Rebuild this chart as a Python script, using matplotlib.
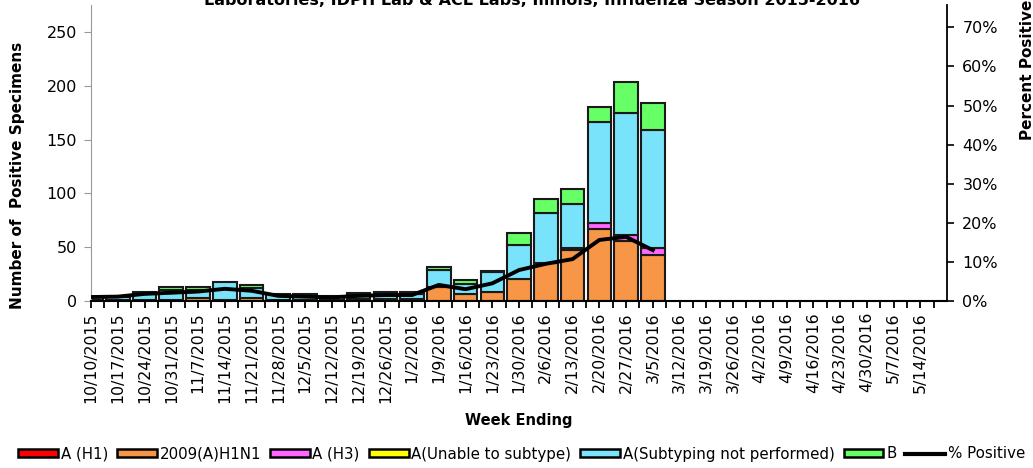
import numpy as np
import matplotlib
matplotlib.use("Agg")
import matplotlib.pyplot as plt
from matplotlib.patches import Patch
from matplotlib.lines import Line2D
from matplotlib.ticker import FuncFormatter, MultipleLocator

# week ending dates
weeks = ["10/10/2015", "10/17/2015", "10/24/2015", "10/31/2015", "11/7/2015",
         "11/14/2015", "11/21/2015", "11/28/2015", "12/5/2015", "12/12/2015",
         "12/19/2015", "12/26/2015", "1/2/2016", "1/9/2016", "1/16/2016",
         "1/23/2016", "1/30/2016", "2/6/2016", "2/13/2016", "2/20/2016",
         "2/27/2016", "3/5/2016", "3/12/2016", "3/19/2016", "3/26/2016",
         "4/2/2016", "4/9/2016", "4/16/2016", "4/23/2016", "4/30/2016",
         "5/7/2016", "5/14/2016"]

# specimens per week
a_h1 =      [0, 0, 0, 0, 0, 0, 0, 0, 0, 0, 0, 0, 0, 0, 0, 0, 0, 0, 0, 0, 0, 0,
             0, 0, 0, 0, 0, 0, 0, 0, 0, 0]
h1n1_2009 = [1, 1, 1, 1, 3, 1, 3, 1, 1, 1, 2, 2, 2, 13, 6, 8, 20, 35, 47, 67, 56, 43,
             0, 0, 0, 0, 0, 0, 0, 0, 0, 0]
a_h3 =      [0, 0, 0, 0, 0, 0, 0, 0, 0, 0, 0, 0, 0, 0, 0, 0, 0, 0, 2, 5, 5, 6,
             0, 0, 0, 0, 0, 0, 0, 0, 0, 0]
a_unable =  [0, 0, 0, 0, 0, 0, 0, 0, 0, 0, 0, 0, 0, 0, 0, 0, 0, 0, 0, 0, 0, 0,
             0, 0, 0, 0, 0, 0, 0, 0, 0, 0]
a_notsub =  [3, 3, 6, 9, 7, 17, 9, 5, 5, 4, 4, 5, 4, 16, 10, 19, 32, 47, 41, 94, 114, 110,
             0, 0, 0, 0, 0, 0, 0, 0, 0, 0]
b_type =    [0, 0, 1, 3, 3, 0, 3, 0, 0, 0, 1, 1, 2, 3, 3, 1, 11, 13, 14, 14, 29, 25,
             0, 0, 0, 0, 0, 0, 0, 0, 0, 0]
pct_pos =   [1.0, 1.1, 1.8, 2.1, 2.4, 3.1, 2.6, 1.3, 1.1, 0.9, 1.3, 1.5, 1.5, 4.1, 3.0,
             4.5, 7.9, 9.5, 10.7, 15.6, 16.4, 13.0]

series = [("A (H1)", a_h1, "#ff0000"),
          ("2009(A)H1N1", h1n1_2009, "#f79646"),
          ("A (H3)", a_h3, "#ff66ff"),
          ("A(Unable to subtype)", a_unable, "#ffff00"),
          ("A(Subtyping not performed)", a_notsub, "#78e3fa"),
          ("B", b_type, "#66ff66")]

plt.rcParams['font.family'] = ['DejaVu Sans']

fig = plt.figure(figsize=(10.33, 4.68), dpi=100)
ax = fig.add_axes([0.0881, 0.357, 0.8287, 0.632])
ax2 = ax.twinx()

x = np.arange(len(weeks))
bottom = np.zeros(len(weeks))
for name, vals, col in series:
    vals = np.array(vals, dtype=float)
    mask = vals > 0
    ax.bar(x[mask], vals[mask], bottom=bottom[mask], width=0.88, color=col,
           edgecolor="#1a1a1a", linewidth=1.5, zorder=2)
    bottom += vals

ax2.plot(x[:len(pct_pos)], np.array(pct_pos) / 100, color="black", lw=2.8,
         solid_joinstyle="round", zorder=5)
ax.set_zorder(ax2.get_zorder() - 1)
ax2.patch.set_visible(False)

ax.set_xlim(0, 32)
ax.set_ylim(0, 275)
ax2.set_ylim(0, 0.757)

ax.set_xticks(x)
ax.set_xticklabels(weeks, rotation=90, fontsize=11.3)
ax.set_xticks(x + 0.5, minor=True)
ax.tick_params(axis="x", which="both", length=5, width=1.3, direction="out", pad=3)

ax.yaxis.set_major_locator(MultipleLocator(50))
ax.tick_params(axis="y", labelsize=11.5, length=5, color="#999999", pad=5)
ax2.yaxis.set_major_locator(MultipleLocator(0.1))
ax2.yaxis.set_major_formatter(FuncFormatter(lambda v, p: f"{v * 100:.0f}%"))
ax2.tick_params(axis="y", labelsize=11.5, length=5, width=1.2, pad=6)

ax.spines["top"].set_visible(False)
ax2.spines["top"].set_visible(False)
ax.spines["left"].set_color("#999999")
ax2.spines["left"].set_visible(False)
ax.spines["right"].set_visible(False)
ax2.spines["right"].set_linewidth(1.3)
ax2.spines["bottom"].set_visible(False)
ax.spines["bottom"].set_linewidth(1.5)

fig.text(0.515, 1 - 5 / 468, "Laboratories, IDPH Lab & ACL Labs, Illinois, Influenza Season 2015-2016",
         ha="center", va="baseline", fontsize=11.5, fontweight="bold")
fig.text(17.5 / 1033, 1 - 175 / 468, "Number of  Positive Specimens", rotation=90,
         ha="center", va="center", fontsize=11, fontweight="bold")
fig.text(1027 / 1033, 1 - 70 / 468, "Percent Positive", rotation=90,
         ha="center", va="center", fontsize=11, fontweight="bold")
fig.text(0.5025, 1 - 420 / 468, "Week Ending", ha="center", va="center",
         fontsize=10.5, fontweight="bold")

handles = [Patch(facecolor=col, edgecolor="black", linewidth=1.8, label=name)
           for name, vals, col in series]
handles.append(Line2D([0], [0], color="black", lw=3, label="% Positive"))
fig.legend(handles=handles, loc="center", bbox_to_anchor=(0.505, 1 - 454 / 468),
           ncol=7, frameon=False, fontsize=10.8, handlelength=2.65, handleheight=0.5,
           handletextpad=0.18, columnspacing=0.6, borderpad=0)

fig.savefig("out.png", dpi=100)
